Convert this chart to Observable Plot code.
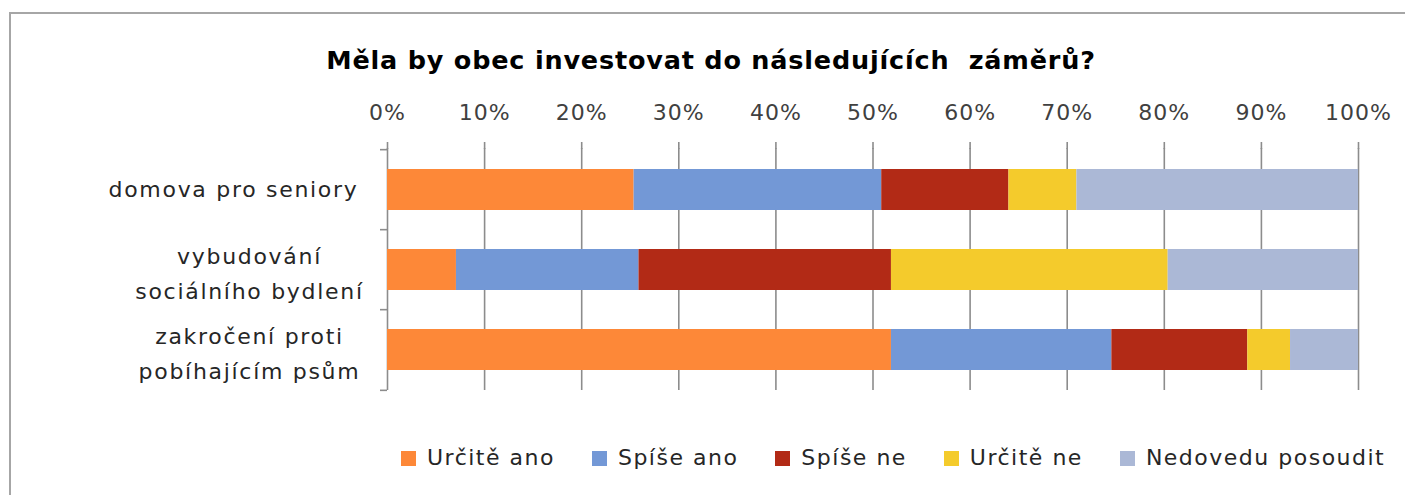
<!DOCTYPE html>
<html><head><meta charset="utf-8">
<script src="https://cdn.jsdelivr.net/npm/d3@7"></script>
<script src="https://cdn.jsdelivr.net/npm/@observablehq/plot@0.6"></script>
<style>
body{margin:0;background:#fff;font-family:"DejaVu Sans",sans-serif;width:1405px;height:495px;overflow:hidden;position:relative}
#frame{position:absolute;left:9px;top:12px;width:1420px;height:500px;border:2px solid #a6a6a6;box-sizing:border-box}
#title{position:absolute;left:13px;top:44px;width:1396px;text-align:center;font-weight:bold;font-size:25.5px;color:#000;line-height:32px;letter-spacing:0.8px}
#chart{position:absolute;left:0;top:90px}
#legend{position:absolute;left:401px;top:444px;width:1100px;display:flex;align-items:center;font-size:22px;color:#262626;line-height:28px;letter-spacing:1.5px;white-space:nowrap}
#legend .item{display:flex;align-items:center;margin-right:37px;flex-shrink:0}
#legend .sw{width:15px;height:15px;margin-right:11px;flex-shrink:0}
</style>
</head><body>
<div id="frame"></div>
<div id="title">Měla by obec investovat do následujících&nbsp; záměrů?</div>
<div id="chart"></div>
<div id="legend"></div>
<script>
const categories = ["domova pro seniory", "vybudování\nsociálního bydlení", "zakročení proti\npobíhajícím psům"];
const answers = ["Určitě ano", "Spíše ano", "Spíše ne", "Určitě ne", "Nedovedu posoudit"];
const urciteAno = [25.4, 7.1, 51.9];
const spiseAno = [25.5, 18.8, 22.7];
const spiseNe = [13.1, 26.0, 14.0];
const urciteNe = [7.0, 28.5, 4.4];
const nedovedu = [29.0, 19.6, 7.0];
const colors = ["#fd8838", "#7398d6", "#b22a16", "#f4cb2c", "#abb8d6"];
const xTicks = [0, 10, 20, 30, 40, 50, 60, 70, 80, 90, 100];

const series = [urciteAno, spiseAno, spiseNe, urciteNe, nedovedu];
const rows = [];
categories.forEach((c, i) => series.forEach((s, j) => rows.push({category: c, answer: answers[j], value: s[i]})));

const W = 1405, H = 310, mTop = 58, mBottom = 10;
const bandStep = (H - mTop - mBottom) / categories.length;
const font = '"DejaVu Sans", sans-serif';

const plot = Plot.plot({
  width: W, height: H,
  marginLeft: 387, marginRight: 47, marginTop: mTop, marginBottom: mBottom,
  style: {fontFamily: font, fontSize: "22px", color: "#404040", background: "transparent", overflow: "visible"},
  x: {domain: [0, 100], axis: null},
  y: {domain: categories, paddingInner: 0.49, paddingOuter: 0.245, axis: null},
  color: {domain: answers, range: colors},
  marks: [
    Plot.gridX(xTicks, {stroke: "#8c8c8c", strokeOpacity: 1, strokeWidth: 1.6}),
    Plot.barX(rows, {y: "category", x: "value", fill: "answer", order: answers}),
    Plot.ruleY([0], {frameAnchor: "top", stroke: "#8c8c8c", strokeWidth: 1.6}),
    Plot.axisX(xTicks, {anchor: "top", label: null, tickSize: 7, tickPadding: 22, stroke: "#8c8c8c", strokeWidth: 1.6, fill: "#404040", tickFormat: d => d + "%", fontSize: 22}),
    Plot.axisY(categories, {anchor: "left", label: null, tickSize: 7, stroke: "#8c8c8c", strokeWidth: 1.6, text: null, dy: -bandStep / 2}),
    Plot.axisY(categories.slice(-1), {anchor: "left", label: null, tickSize: 7, stroke: "#8c8c8c", strokeWidth: 1.6, text: null, dy: bandStep / 2}),
    Plot.axisY(categories.slice(0, 1), {anchor: "left", label: null, tickSize: 0, tickPadding: 29, fill: "#262626", fontSize: 22, textAnchor: "end"}),
    Plot.axisY(categories.slice(1), {anchor: "left", label: null, tickSize: 0, tickPadding: 0, fill: "#262626", fontSize: 22, textAnchor: "middle", dx: -138, lineHeight: 1.6})
  ]
});
plot.querySelectorAll("text").forEach(t => t.style.letterSpacing = "1.7px");
plot.querySelectorAll("[aria-label='x-axis tick label'] text").forEach(t => t.style.letterSpacing = "1px");
document.getElementById("chart").appendChild(plot);

const legend = document.getElementById("legend");
answers.forEach((a, i) => {
  const it = document.createElement("div"); it.className = "item";
  const sw = document.createElement("span"); sw.className = "sw"; sw.style.background = colors[i];
  const t = document.createElement("span"); t.textContent = a;
  it.appendChild(sw); it.appendChild(t); legend.appendChild(it);
});
</script>
</body></html>
